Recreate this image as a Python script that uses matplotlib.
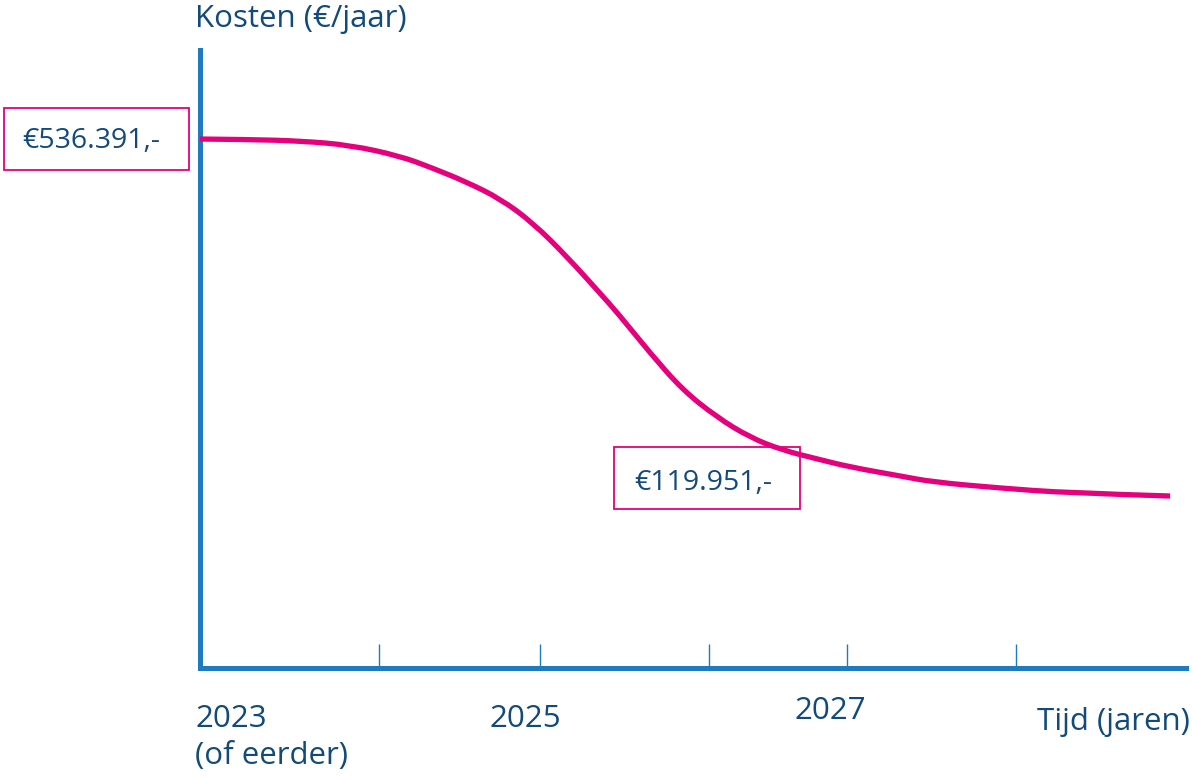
import matplotlib.pyplot as plt
from matplotlib.patches import Rectangle, PathPatch
from matplotlib.path import Path
import matplotlib.transforms as mtrans

# curve: year vs cost (EUR/jaar)
years = [2023.00, 2023.31, 2023.62, 2023.92, 2024.23, 2024.43, 2024.64, 2024.85,
         2025.05, 2025.26, 2025.46, 2025.57, 2025.77, 2025.97, 2026.18, 2026.38,
         2026.58, 2026.80, 2027.00, 2027.31, 2027.51, 2027.92, 2028.34, 2028.97]
kosten = [536391, 535900, 534400, 530300, 519200, 507000, 492800, 475600,
          451200, 416800, 380300, 360000, 319400, 281900, 254500, 234200,
          221100, 211900, 203800, 194700, 188600, 182500, 177500, 174400]

tick_years = [2024.10, 2025.09, 2026.13, 2026.98, 2028.02]
label_years = [2023.0, 2025.0, 2026.88]
label_texts = ['2023', '2025', '2027']

start_label = '€536.391,-'
end_label = '€119.951,-'

pink = '#E5007D'
blue = '#1F7BBF'
tekst = '#124A7C'
font = 'Open Sans'

W, H = 1192, 777
fig = plt.figure(figsize=(W / 100, H / 100), dpi=100)

def px(x, y):
    return x / W, 1 - y / H

ax = fig.add_axes([200 / W, (H - 668) / H, 986 / W, 618 / H])
ax.set_xlim(2023, 2023 + 986 / 162.5)
ax.set_ylim(0, 618 * 1014)

# smooth line through the points (quadratic bezier via midpoints)
pts = list(zip(years, kosten))
verts = [pts[0]]
codes = [Path.MOVETO]
for i in range(1, len(pts) - 1):
    mid = ((pts[i][0] + pts[i + 1][0]) / 2, (pts[i][1] + pts[i + 1][1]) / 2)
    if i == len(pts) - 2:
        mid = pts[-1]
    verts += [pts[i], mid]
    codes += [Path.CURVE3, Path.CURVE3]
ax.add_patch(PathPatch(Path(verts, codes), facecolor='none', edgecolor=pink,
                       lw=3.8, capstyle='butt', zorder=5))

for s in ['top', 'right']:
    ax.spines[s].set_visible(False)
for s in ['left', 'bottom']:
    ax.spines[s].set_color(blue)
    ax.spines[s].set_linewidth(3.6)
    ax.spines[s].set_capstyle('projecting')

ax.set_yticks([])
ax.set_xticks(tick_years)
ax.set_xticklabels([])
ax.tick_params(axis='x', direction='in', length=17, width=1, color=blue)

# x labels (x in data, y in pixels)
blend = mtrans.blended_transform_factory(ax.transData, fig.transFigure)
base_y = [727, 727, 719]
for xv, t, by in zip(label_years, label_texts, base_y):
    ha = 'left' if t == '2023' else 'center'
    ax.text(xv - 0.03 if ha == 'left' else xv, 1 - by / H, t, transform=blend,
            ha=ha, va='baseline', fontsize=22.5, color=tekst, family=font, clip_on=False)
ax.text(2023 - 0.03, 1 - 764 / H, '(of eerder)', transform=blend,
        ha='left', va='baseline', fontsize=22.5, color=tekst, family=font, clip_on=False)

fig.text(*px(1190, 730), 'Tijd (jaren)', ha='right', va='baseline',
         fontsize=22.5, color=tekst, family=font)
fig.text(*px(195, 27), 'Kosten (€/jaar)', ha='left', va='baseline',
         fontsize=22.5, color=tekst, family=font)

# value boxes
def box(x0, y0, x1, y1, txt, tx, by):
    r = Rectangle(px(x0, y1), (x1 - x0) / W, (y1 - y0) / H, transform=fig.transFigure,
                  facecolor='none', edgecolor=pink, lw=1.3, zorder=3)
    fig.add_artist(r)
    fig.text(*px(tx, by), txt, ha='left', va='baseline',
             fontsize=20.5, color=tekst, family=font)

box(4, 108, 189, 170, start_label, 22, 148)
box(614, 447, 800, 509, end_label, 634, 490)

fig.savefig('out.png', dpi=100, facecolor='white')
